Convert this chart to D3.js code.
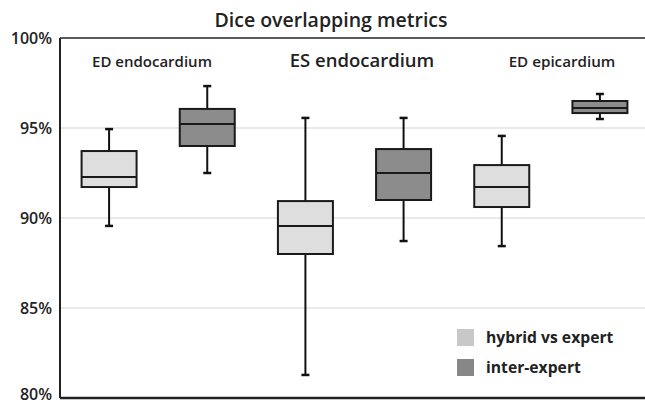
<!DOCTYPE html>
<html>
<head>
<meta charset="utf-8">
<script src="https://cdn.jsdelivr.net/npm/d3@7"></script>
<style>
  body { margin: 0; background: #fff; }
  text { font-family: "Open Sans", Lato, sans-serif; fill: #222; }
</style>
</head>
<body>
<script>
var width = 645;
var height = 406;

// data (percent)
var groups = ["ED endocardium", "ES endocardium", "ED epicardium"];
var series = ["hybrid vs expert", "inter-expert"];
var hybridMin = [89.56, 81.28, 88.44];
var hybridQ1 = [91.72, 88.0, 90.61];
var hybridMed = [92.28, 89.56, 91.72];
var hybridQ3 = [93.72, 90.94, 92.94];
var hybridMax = [94.94, 95.56, 94.56];
var interMin = [92.5, 88.72, 95.5];
var interQ1 = [94.0, 91.0, 95.83];
var interMed = [95.22, 92.5, 96.11];
var interQ3 = [96.06, 93.83, 96.5];
var interMax = [97.33, 95.56, 96.89];
var yTicks = [80, 85, 90, 95, 100];

var boxes = [];
groups.forEach(function(g, i) {
  boxes.push({ key: g + "|0", s: 0, min: hybridMin[i], q1: hybridQ1[i], med: hybridMed[i], q3: hybridQ3[i], max: hybridMax[i] });
  boxes.push({ key: g + "|1", s: 1, min: interMin[i], q1: interQ1[i], med: interMed[i], q3: interQ3[i], max: interMax[i] });
});

var boxFill = ["#dedede", "#8c8c8c"];
var swatchFill = ["#c8c8c8", "#878787"];

var svg = d3.select("body")
            .append("svg")
            .attr("width", width)
            .attr("height", height);

var x = d3.scaleBand()
          .domain(boxes.map(function(d) { return d.key; }))
          .range([60, 649]);

var y = d3.scaleLinear()
          .domain([80, 100])
          .range([398, 38]);

// gridlines
svg.append("g")
   .selectAll("line")
   .data(yTicks.filter(function(t) { return t > 80 && t < 100; }))
   .join("line")
   .attr("x1", 60)
   .attr("x2", width)
   .attr("y1", function(d) { return y(d); })
   .attr("y2", function(d) { return y(d); })
   .attr("stroke", "#e2e2e2")
   .attr("stroke-width", 1.5);

// y axis
var yAxis = svg.append("g")
   .attr("transform", "translate(60,0)")
   .call(d3.axisLeft(y).tickValues(yTicks).tickSize(0).tickPadding(8)
           .tickFormat(function(d) { return d + "%"; }));
yAxis.select(".domain").remove();
yAxis.selectAll("text")
     .attr("font-family", "'Open Sans', sans-serif")
     .attr("font-size", "16px")
     .attr("font-weight", 600)
     .attr("dy", function(d) { return d === 80 ? "0.1em" : "0.32em"; })
     .attr("fill", "#333");

// frame
svg.append("line")
   .attr("x1", 60).attr("x2", 60)
   .attr("y1", 38).attr("y2", 398)
   .attr("stroke", "#222").attr("stroke-width", 2);
svg.append("line")
   .attr("x1", 60).attr("x2", width)
   .attr("y1", 38).attr("y2", 38)
   .attr("stroke", "#222").attr("stroke-width", 1.5);
svg.append("line")
   .attr("x1", 60).attr("x2", width)
   .attr("y1", 398).attr("y2", 398)
   .attr("stroke", "#222").attr("stroke-width", 2.5);

// boxes
var bw = 55;
var capW = 8;
var g = svg.append("g")
           .selectAll("g")
           .data(boxes)
           .join("g")
           .attr("transform", function(d) { return "translate(" + (x(d.key) + x.bandwidth() / 2) + ",0)"; });

g.append("line")
 .attr("x1", 0).attr("x2", 0)
 .attr("y1", function(d) { return y(d.max); })
 .attr("y2", function(d) { return y(d.min); })
 .attr("stroke", "#111").attr("stroke-width", 2);

g.append("line")
 .attr("x1", -capW / 2).attr("x2", capW / 2)
 .attr("y1", function(d) { return y(d.max); })
 .attr("y2", function(d) { return y(d.max); })
 .attr("stroke", "#111").attr("stroke-width", 2.5);

g.append("line")
 .attr("x1", -capW / 2).attr("x2", capW / 2)
 .attr("y1", function(d) { return y(d.min); })
 .attr("y2", function(d) { return y(d.min); })
 .attr("stroke", "#111").attr("stroke-width", 2.5);

g.append("rect")
 .attr("x", -bw / 2)
 .attr("width", bw)
 .attr("y", function(d) { return y(d.q3); })
 .attr("height", function(d) { return y(d.q1) - y(d.q3); })
 .attr("fill", function(d) { return boxFill[d.s]; })
 .attr("stroke", "#1a1a1a")
 .attr("stroke-width", 2);

g.append("line")
 .attr("x1", -bw / 2).attr("x2", bw / 2)
 .attr("y1", function(d) { return y(d.med); })
 .attr("y2", function(d) { return y(d.med); })
 .attr("stroke", "#1a1a1a").attr("stroke-width", 2);

// group labels
var labelX = [152, 362, 562];
var labelSize = [15, 18.5, 15.2];
svg.append("g")
   .selectAll("text")
   .data(groups)
   .join("text")
   .attr("x", function(d, i) { return labelX[i]; })
   .attr("y", 67)
   .attr("text-anchor", "middle")
   .attr("font-size", function(d, i) { return labelSize[i] + "px"; })
   .attr("font-weight", 600)
   .text(function(d) { return d; });

// title
svg.append("text")
   .attr("x", 331)
   .attr("y", 27)
   .attr("text-anchor", "middle")
   .attr("font-size", "19.5px")
   .attr("font-weight", 600)
   .text("Dice overlapping metrics");

// legend
var leg = svg.append("g")
             .selectAll("g")
             .data(series)
             .join("g")
             .attr("transform", function(d, i) { return "translate(457," + (329 + i * 30) + ")"; });
leg.append("rect")
   .attr("width", 17).attr("height", 17)
   .attr("fill", function(d, i) { return swatchFill[i]; });
leg.append("text")
   .attr("x", 29)
   .attr("y", 14)
   .attr("font-size", "15.7px")
   .attr("font-weight", 700)
   .text(function(d) { return d; });
</script>
</body>
</html>
